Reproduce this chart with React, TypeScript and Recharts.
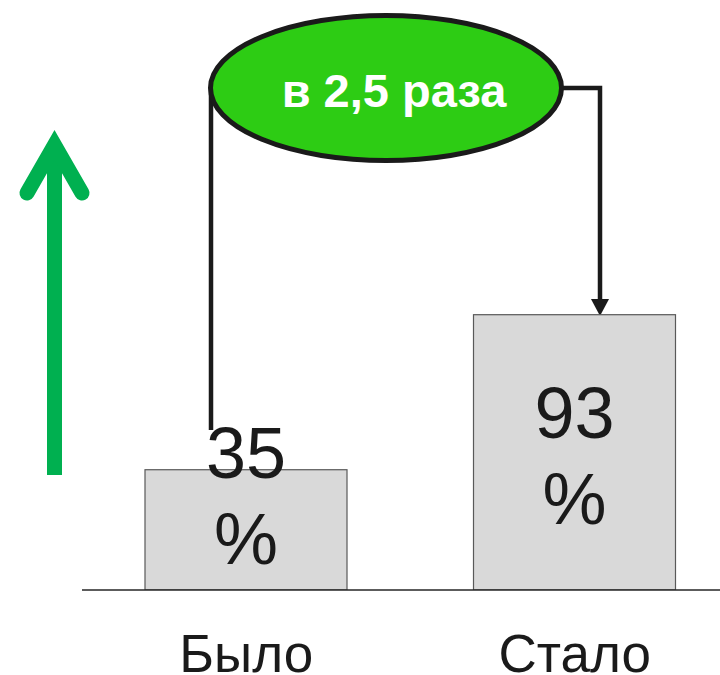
import React from 'react';
import { BarChart, Bar, XAxis, YAxis, Customized } from 'recharts';

const categories = ['Было', 'Стало'];
const values = [35, 93];
const valueSuffix = '%';
const ratioLabel = 'в 2,5 раза';

const data = categories.map((name, i) => ({ name, value: values[i] }));

const FONT = '"Liberation Sans", Arial, Helvetica, sans-serif';

const BarShape = (props: any) => {
  const { x, y, width, background, payload } = props;
  const bottom = background ? background.y + background.height : 590;
  const h = bottom - y;
  const center = y + h / 2;
  const b1 = Math.min(center - 14.5, bottom - 112);
  const cx = x + width / 2;
  return (
    <g>
      <rect x={x} y={y} width={width} height={h} fill="#d9d9d9" stroke="#595959" strokeWidth={1.2} />
      <text textAnchor="middle" fontSize={72} fill="#1a1a1a" fontFamily={FONT}>
        <tspan x={cx} y={b1}>{payload.value}</tspan>
        <tspan x={cx} y={b1 + 86}>{valueSuffix}</tspan>
      </text>
    </g>
  );
};

const Annotations = () => (
  <g>
    {/* green up arrow */}
    <line x1={54.5} y1={475} x2={54.5} y2={150} stroke="#00b050" strokeWidth={15} />
    <polyline
      points="27,193 54.5,145 82,193"
      fill="none"
      stroke="#00b050"
      strokeWidth={15}
      strokeLinecap="round"
      strokeLinejoin="miter"
    />
    {/* connectors */}
    <line x1={211} y1={88} x2={211} y2={430} stroke="#1a1a1a" strokeWidth={4.5} />
    <path d="M 562 88 H 600 V 300" fill="none" stroke="#1a1a1a" strokeWidth={4.5} />
    <polygon points="591,299 609,299 600,316" fill="#1a1a1a" />
    {/* ellipse */}
    <ellipse cx={386} cy={88} rx={175.5} ry={72.5} fill="#2dcc14" stroke="#1a1a1a" strokeWidth={5} />
    <text x={394} y={107} textAnchor="middle" fontSize={47} fontWeight="bold" fill="#ffffff" fontFamily={FONT}>
      {ratioLabel}
    </text>
  </g>
);

export default function App() {
  return (
    <div style={{ position: 'absolute', left: 0, top: 0, width: 720, height: 675, overflow: 'hidden', background: '#ffffff' }}>
      <BarChart width={740} height={675} data={data} margin={{ top: 10, right: 1, left: 82, bottom: 0 }} barSize={202}>
        <XAxis
          dataKey="name"
          height={85}
          tickLine={false}
          axisLine={{ stroke: '#262626', strokeWidth: 1.5 }}
          tick={{ fontSize: 53, fill: '#1a1a1a', fontFamily: FONT }}
          tickMargin={38}
          interval={0}
        />
        <YAxis hide type="number" domain={[-10, 207]} allowDataOverflow />
        <Bar dataKey="value" isAnimationActive={false} shape={BarShape} />
        <Customized component={Annotations} />
      </BarChart>
    </div>
  );
}
